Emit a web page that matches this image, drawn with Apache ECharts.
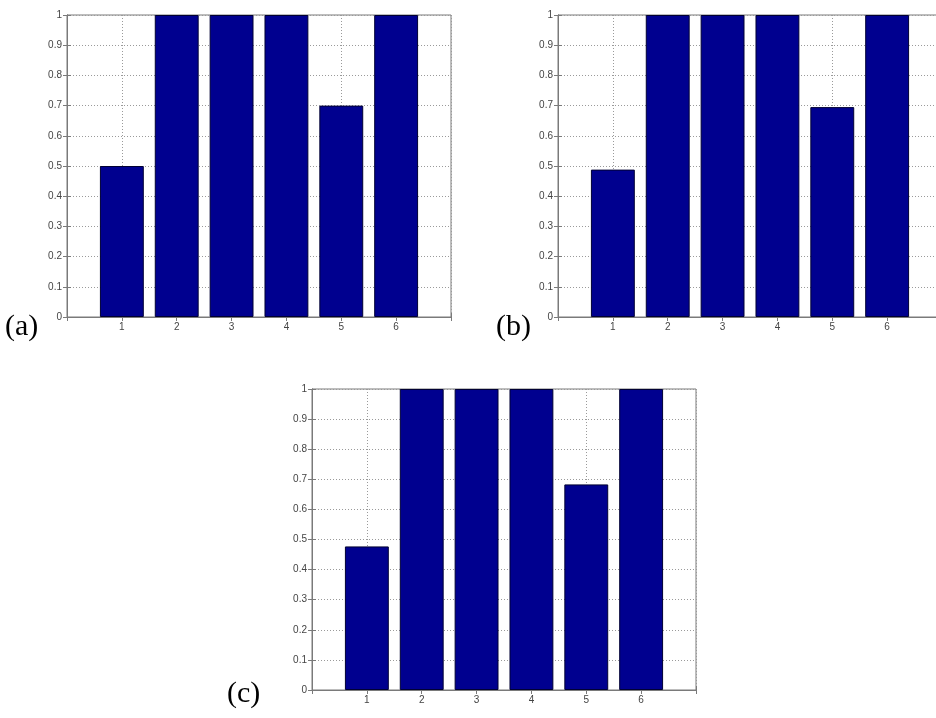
<!DOCTYPE html>
<html>
<head>
<meta charset="utf-8">
<title>Bar charts (a), (b), (c)</title>
<script src="https://cdn.jsdelivr.net/npm/echarts@6/dist/echarts.min.js"></script>
<style>
  html, body { margin: 0; padding: 0; background: #ffffff; }
  #chart { width: 936px; height: 718px; }
</style>
</head>
<body>
<div id="chart"></div>
<script>
// Bar positions on the x axis and their tick labels
const positions = [1, 2, 3, 4, 5, 6];
const tickLabels = ['1', '2', '3', '4', '5', '6'];

// Bar heights for each panel
const valuesA = [0.50, 1, 1, 1, 0.70, 1];
const valuesB = [0.488, 1, 1, 1, 0.695, 1];
const valuesC = [0.477, 1, 1, 1, 0.683, 1];

// Panel captions
const captions = ['(a)', '(b)', '(c)'];

const panels = [
  { values: valuesA, grid: { left: 67, top: 15, width: 384, height: 302 }, caption: { x: 5, y: 327 } },
  { values: valuesB, grid: { left: 558, top: 15, width: 384, height: 302 }, caption: { x: 496, y: 327 } },
  { values: valuesC, grid: { left: 312, top: 389, width: 384, height: 301 }, caption: { x: 227, y: 694 } }
];

const AXIS_COLOR = '#7a7a7a';
const GRID_COLOR = '#9a9a9a';
const LABEL_COLOR = '#444444';
const BAR_COLOR = '#00008f';

const grid = [], xAxis = [], yAxis = [], series = [], graphic = [];

panels.forEach((p, i) => {
  grid.push(Object.assign({
    show: true, borderColor: AXIS_COLOR, borderWidth: 1, backgroundColor: '#ffffff',
    containLabel: false, outerBoundsMode: 'none'
  }, p.grid));

  // bottom x axis with labels and dotted vertical grid lines
  xAxis.push({
    type: 'value', gridIndex: i, position: 'bottom', min: 0, max: 7, interval: 1,
    axisLine: { show: true, lineStyle: { color: AXIS_COLOR } },
    axisTick: { show: true, inside: true, length: 4, lineStyle: { color: AXIS_COLOR } },
    axisLabel: {
      margin: 5, fontSize: 10, fontFamily: 'Liberation Sans', color: LABEL_COLOR,
      formatter: v => { const k = positions.indexOf(v); return k >= 0 ? tickLabels[k] : ''; }
    },
    splitLine: { show: true, lineStyle: { color: GRID_COLOR, type: [1, 2], width: 1 } }
  });
  // top x axis: ticks only
  xAxis.push({
    type: 'value', gridIndex: i, position: 'top', min: 0, max: 7, interval: 1,
    axisLine: { show: true, lineStyle: { color: AXIS_COLOR } },
    axisTick: { show: true, inside: true, length: 4, lineStyle: { color: AXIS_COLOR } },
    axisLabel: { show: false },
    splitLine: { show: false }
  });
  // left y axis with labels and dotted horizontal grid lines
  yAxis.push({
    type: 'value', gridIndex: i, position: 'left', min: 0, max: 1, interval: 0.1,
    axisLine: { show: true, lineStyle: { color: AXIS_COLOR } },
    axisTick: { show: true, inside: true, length: 4, lineStyle: { color: AXIS_COLOR } },
    axisLabel: { margin: 5, fontSize: 10, fontFamily: 'Liberation Sans', color: LABEL_COLOR },
    splitLine: { show: true, lineStyle: { color: GRID_COLOR, type: [1, 2], width: 1 } }
  });
  // right y axis: ticks only
  yAxis.push({
    type: 'value', gridIndex: i, position: 'right', min: 0, max: 1, interval: 0.1,
    axisLine: { show: true, lineStyle: { color: AXIS_COLOR } },
    axisTick: { show: true, inside: true, length: 4, lineStyle: { color: AXIS_COLOR } },
    axisLabel: { show: false },
    splitLine: { show: false }
  });

  series.push({
    type: 'bar',
    xAxisIndex: i * 2,
    yAxisIndex: i * 2,
    barWidth: '80%',
    data: positions.map((x, k) => [x, p.values[k]]),
    itemStyle: { color: BAR_COLOR, borderColor: '#000033', borderWidth: 1 },
    silent: true,
    z: 3
  });

  graphic.push({
    type: 'text',
    x: p.caption.x,
    y: p.caption.y,
    style: {
      text: captions[i],
      font: '30px "Liberation Serif"',
      fill: '#000000',
      verticalAlign: 'middle',
      align: 'left'
    }
  });
});

const chart = echarts.init(document.getElementById('chart'), null, { renderer: 'canvas' });
chart.setOption({
  animation: false,
  backgroundColor: '#ffffff',
  grid, xAxis, yAxis, series, graphic
});
</script>
</body>
</html>
